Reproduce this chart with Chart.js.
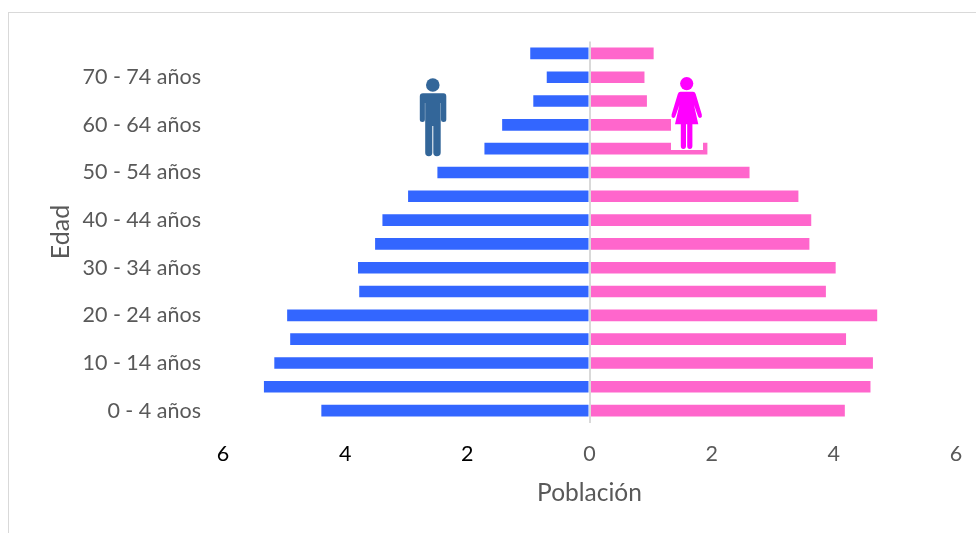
<!DOCTYPE html>
<html><head><meta charset="utf-8">
<script src="https://cdn.jsdelivr.net/npm/chart.js@4"></script>
<style>
html,body{margin:0;padding:0;background:#fff;overflow:hidden}
#wrap{position:relative;width:976px;height:533px}
#frame{position:absolute;left:8px;top:12px;width:980px;height:540px;border:1.5px solid #d9d9d9;box-sizing:border-box}
canvas{position:absolute;left:0;top:0}
svg{position:absolute;left:0;top:0;pointer-events:none}
</style></head><body>
<div id="wrap">
<div id="frame"></div>
<canvas id="c" width="976" height="533"></canvas>
<svg width="976" height="533" viewBox="0 0 976 533">
  <g fill="#336699">
    <circle cx="432.8" cy="85" r="6.8"/>
    <path d="M423 93.3H443.5Q446.3 93.3 446.3 96.5V119.5Q446.3 122 443.6 122Q441 122 441 119.5V103H440.7V152.5Q440.7 156.3 436.8 156.3Q433.3 156.3 433.3 152.5V126H432.3V152.5Q432.3 156.3 428.9 156.3Q425.2 156.3 425.2 152.5V103H424.9V119.5Q424.9 122 422.4 122Q419.8 122 419.8 119.5V96.5Q419.8 93.3 423 93.3Z"/>
  </g>
  <rect x="671" y="70" width="32" height="80" fill="#fff"/>
  <g fill="#ff00ff">
    <circle cx="686.7" cy="83.6" r="6.6"/>
    <path d="M680.5 91.7H693Q695 91.7 695.7 94L701.8 114.5Q702.4 117 700.6 117.8Q698.8 118.3 698 116.2L694 105L698.3 124.3H692.4V146Q692.4 149 689.8 149Q687.2 149 687.2 146V124.3H686V146Q686 149 683.4 149Q680.8 149 680.8 146V124.3H675L679.4 105L675.4 116.2Q674.6 118.3 672.8 117.8Q671 117 671.6 114.5L677.8 94Q678.5 91.7 680.5 91.7Z"/>
  </g>
</svg>
</div>
<script>
const categories = ["0 - 4 años","5 - 9 años","10 - 14 años","15 - 19 años","20 - 24 años","25 - 29 años","30 - 34 años","35 - 39 años","40 - 44 años","45 - 49 años","50 - 54 años","55 - 59 años","60 - 64 años","65 - 69 años","70 - 74 años","75 - 79 años"];
const hombres = [-4.39,-5.33,-5.16,-4.90,-4.95,-3.77,-3.79,-3.51,-3.39,-2.97,-2.49,-1.72,-1.43,-0.92,-0.70,-0.97];
const mujeres = [4.18,4.60,4.64,4.20,4.71,3.87,4.03,3.60,3.63,3.42,2.62,1.93,1.60,0.94,0.90,1.05];
const xTicks = [-6,-4,-2,0,2,4,6];
const font = "Lato, Carlito, Calibri, sans-serif";

new Chart(document.getElementById('c'), {
  type: 'bar',
  data: {
    labels: categories,
    datasets: [
      {label:'Hombres', data:hombres, backgroundColor:'#3366ff', stack:'s'},
      {label:'Mujeres', data:mujeres, backgroundColor:'#ff66cc', stack:'s'}
    ]
  },
  options: {
    indexAxis:'y',
    responsive:false,
    animation:false,
    layout:{autoPadding:false,padding:{left:0,right:20,top:41.5,bottom:25}},
    plugins:{legend:{display:false},title:{display:false},tooltip:{enabled:false}},
    datasets:{bar:{barPercentage:1,categoryPercentage:0.49}},
    scales:{
      x:{
        type:'linear',min:-6,max:6,stacked:true,
        afterBuildTicks(a){a.ticks = xTicks.map(v=>({value:v}));},
        afterFit(a){a.height = 85.5;a.paddingLeft = 0;a.paddingRight = 0;},
        border:{display:false},
        grid:{z:1,drawTicks:false,lineWidth:2,color:c=>c.tick && c.tick.value===0 ? '#d9d9d9' : 'transparent'},
        ticks:{
          padding:19,maxRotation:0,autoSkip:false,
          font:{family:font,size:21.5},
          color:c=>c.tick.value<0 ? '#000000' : '#595959',
          callback:v=>String(Math.abs(v))
        },
        title:{display:true,text:'Población',color:'#595959',font:{family:font,size:24.5},padding:{top:4,bottom:0}}
      },
      y:{
        type:'category',reverse:true,stacked:true,
        afterFit(a){a.width = 223;},
        border:{display:false},
        grid:{display:false},
        ticks:{
          padding:14,autoSkip:false,
          font:{family:font,size:21.5},color:'#595959',
          callback(v,i){return i%2===0 ? this.getLabelForValue(v) : '';}
        },
        title:{display:true,text:'Edad',color:'#595959',font:{family:font,size:25},padding:{top:46,bottom:0}}
      }
    }
  }
});
</script>
</body></html>
